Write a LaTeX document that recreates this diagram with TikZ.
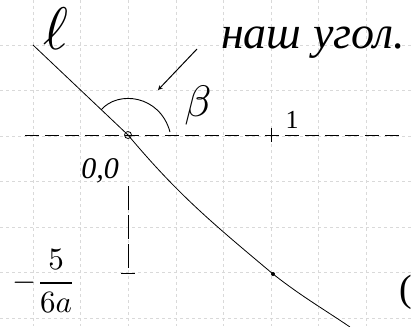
\documentclass[tikz,border=0pt]{standalone}
\usepackage{amsmath}
\usepackage{fontspec}
\setmainfont{Liberation Serif}
\usetikzlibrary{arrows,positioning,calc}

\begin{document}
\begin{tikzpicture}[x=1pt,y=-1pt,
    gridline/.style={gray!30, dashed, line width=0.5pt},
    axis/.style={dashed, dash pattern=on 14pt off 6pt, line width=0.6pt},
    curve/.style={line width=0.8pt},
    hand/.style={font=\itshape, inner sep=0pt},
    big/.style={inner sep=0pt, scale=#1, transform shape},
    arrow/.style={->, line width=1pt, >=stealth}
]
    \useasboundingbox (0,0) rectangle (414,326);
    % grid paper
    \foreach \i in {0,...,8}
        \draw[gridline] (33+47.6*\i,0) -- (33+47.6*\i,326);
    \foreach \j in {0,...,7}
        \draw[gridline] (0,-0.5+45.5*\j) -- (414,-0.5+45.5*\j);

    % axis and points
    \coordinate (left) at (25,135);
    \coordinate (right) at (400,135);
    \draw[axis] (left) -- (right);
    \node[circle, draw, line width=0.8pt, minimum size=7pt, inner sep=0pt] (O) at (128,135) {};
    \coordinate (one) at (271,135);
    \draw[line width=1pt] ($(one)+(0,-7)$) -- ($(one)+(0,7)$);
    \node[big=2.6] (onelabel) at (292,120) {1};

    % line l and curve
    \coordinate (lstart) at (33,45);
    \coordinate (dot) at (273,274);
    \coordinate (lend) at (350,327);
    \draw[curve] (lstart) -- (O.center) to[out=-50,in=140] (dot) to[out=-38,in=146] (lend);
    \fill (dot) circle (2pt);
    \node[big=6] (l) at (56,29) {$\ell$};

    % angle beta
    \coordinate (arcstart) at (101,110);
    \draw[line width=0.9pt] (arcstart) .. controls (118,90) and (160,95) .. (170,132);
    \node[big=4.4] (beta) at (198,105) {$\beta$};
    \coordinate (arrowtail) at (197,49);
    \coordinate (arrowhead) at (158,90);
    \draw[arrow] (arrowtail) -- (arrowhead);
    \node[hand, font=\fontsize{46}{48}\selectfont\itshape] (text) at (313,43) {наш угол.};

    % -5/6a
    \node[hand, font=\fontsize{30}{32}\selectfont\itshape] (origin) at (100,171) {0,0};
    \coordinate (foot) at (128,273);
    \draw[dashed, dash pattern=on 24pt off 5pt, line width=0.6pt] (128,186) -- (foot);
    \draw[line width=0.8pt] ($(foot)+(-7,0)$) -- ($(foot)+(7,0)$);
    \node[big=3.1] (frac) at (44,281) {$-\dfrac{5}{6a}$};
    \node[hand, font=\fontsize{38}{40}\selectfont\upshape] (paren) at (406,292) {(};
\end{tikzpicture}
\end{document}
